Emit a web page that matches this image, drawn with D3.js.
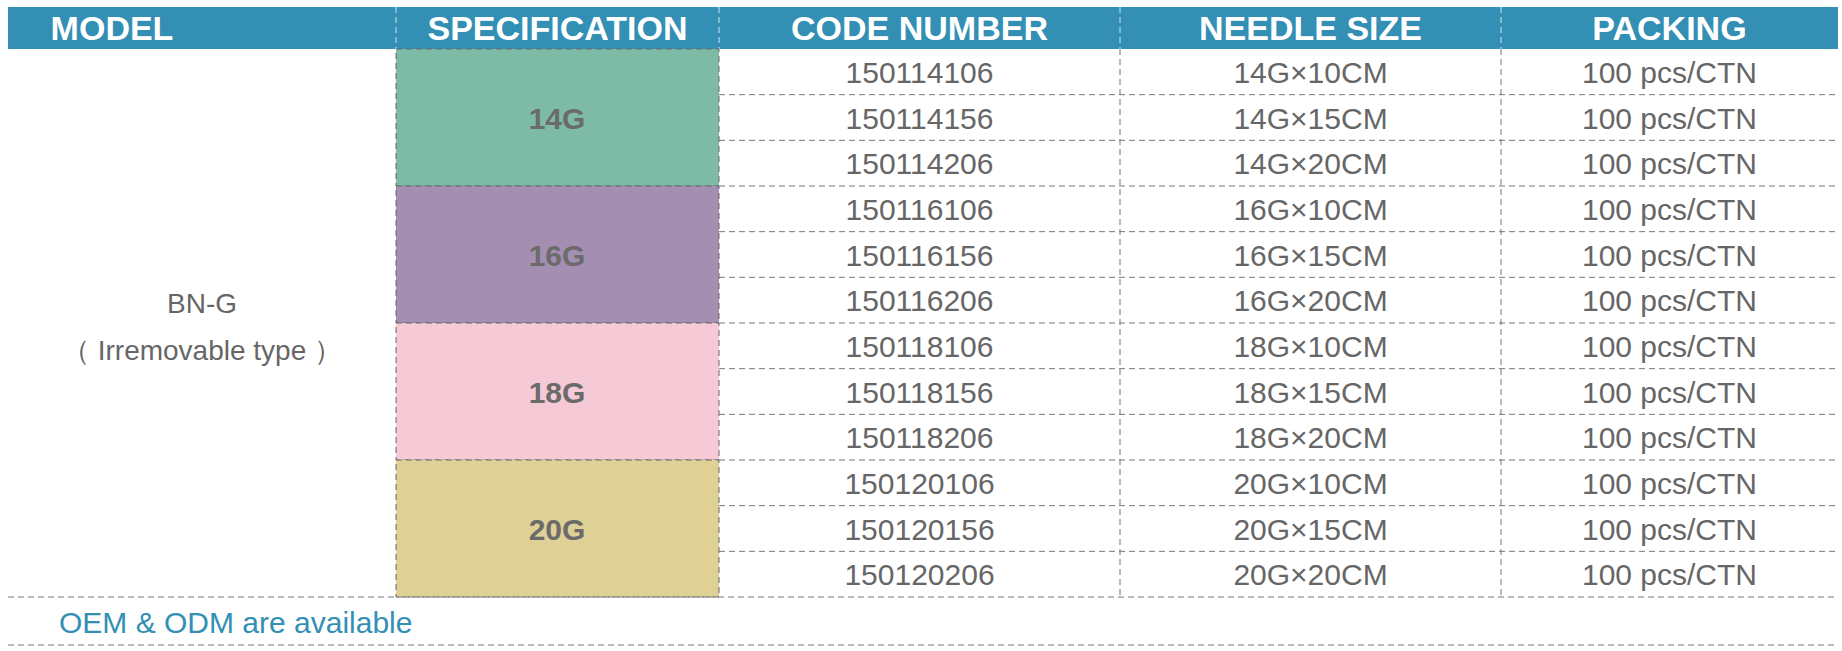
<!DOCTYPE html><html><head><meta charset="utf-8"><script src="https://cdn.jsdelivr.net/npm/d3@7/dist/d3.min.js"></script>
<style>body{margin:0;background:#fff}</style></head><body><svg id="c" width="1842" height="651"></svg><script>
const headers=["MODEL","SPECIFICATION","CODE NUMBER","NEEDLE  SIZE","PACKING"];
const specs=["14G","16G","18G","20G"];
const specColors=["#7dbba6","#a48fb3","#f5cad6","#dfd096"];
const codes=["150114106","150114156","150114206","150116106","150116156","150116206","150118106","150118156","150118206","150120106","150120156","150120206"];
const sizes=["14G×10CM","14G×15CM","14G×20CM","16G×10CM","16G×15CM","16G×20CM","18G×10CM","18G×15CM","18G×20CM","20G×10CM","20G×15CM","20G×20CM"];
const packing=Array.from({length:12},()=>"100 pcs/CTN");
const model=["BN-G","（ Irremovable type ）"];
const footer="OEM & ODM are available";
const colEdges=[8,396,719,1120,1501,1838];
const svg=d3.select("#c");
const y=d3.scaleBand().domain(d3.range(12)).range([49,597]);
const ys=d3.scaleBand().domain(specs).range([49,597]);
const font="'Liberation Sans',Arial,sans-serif";
const narrow="'Liberation Sans Narrow','Arial Narrow','Liberation Sans',sans-serif";
svg.append("rect").attr("x",8).attr("y",7).attr("width",1830).attr("height",42).attr("fill","#338fb4");
headers.forEach((h,i)=>{const cx=(colEdges[i]+colEdges[i+1])/2;
 svg.append("text").attr("x",i==0?112:cx).attr("y",40).attr("text-anchor",i==0?"middle":"middle").attr("font-family",narrow).attr("font-weight","bold").attr("font-size",34).attr("fill","#fff").text(h);
 if(i>0) svg.append("line").attr("x1",colEdges[i]).attr("x2",colEdges[i]).attr("y1",7).attr("y2",49).attr("stroke","#cde3ee").attr("stroke-dasharray","6,4");});
specs.forEach((s,i)=>{svg.append("rect").attr("x",396).attr("y",ys(s)).attr("width",323).attr("height",ys.bandwidth()).attr("fill",specColors[i]).attr("stroke","#666").attr("stroke-dasharray","6,4");
 svg.append("text").attr("x",557).attr("y",ys(s)+ys.bandwidth()/2+11).attr("text-anchor","middle").attr("font-family",font).attr("font-weight","bold").attr("font-size",30).attr("fill","#6b6b6b").text(s);});
[codes,sizes,packing].forEach((arr,k)=>{arr.forEach((t,i)=>{svg.append("text").attr("x",(colEdges[k+2]+colEdges[k+3])/2).attr("y",y(i)+y.bandwidth()/2+11).attr("text-anchor","middle").attr("font-family",font).attr("font-size",30).attr("fill","#666").text(t);});});
d3.range(1,12).forEach(i=>svg.append("line").attr("x1",719).attr("x2",1838).attr("y1",y(i)).attr("y2",y(i)).attr("stroke","#777").attr("stroke-dasharray","6,4"));
[1120,1501].forEach(x=>svg.append("line").attr("x1",x).attr("x2",x).attr("y1",49).attr("y2",597).attr("stroke","#777").attr("stroke-dasharray","6,4"));
[597,645].forEach(v=>svg.append("line").attr("x1",8).attr("x2",1838).attr("y1",v).attr("y2",v).attr("stroke","#777").attr("stroke-dasharray","6,4"));
model.forEach((t,i)=>svg.append("text").attr("x",202).attr("y",313+i*47).attr("text-anchor","middle").attr("font-family",font).attr("font-size",28).attr("fill","#666").text(t));
svg.append("text").attr("x",59).attr("y",633).attr("font-family",font).attr("font-size",30).attr("fill","#338fb4").text(footer);
</script></body></html>
